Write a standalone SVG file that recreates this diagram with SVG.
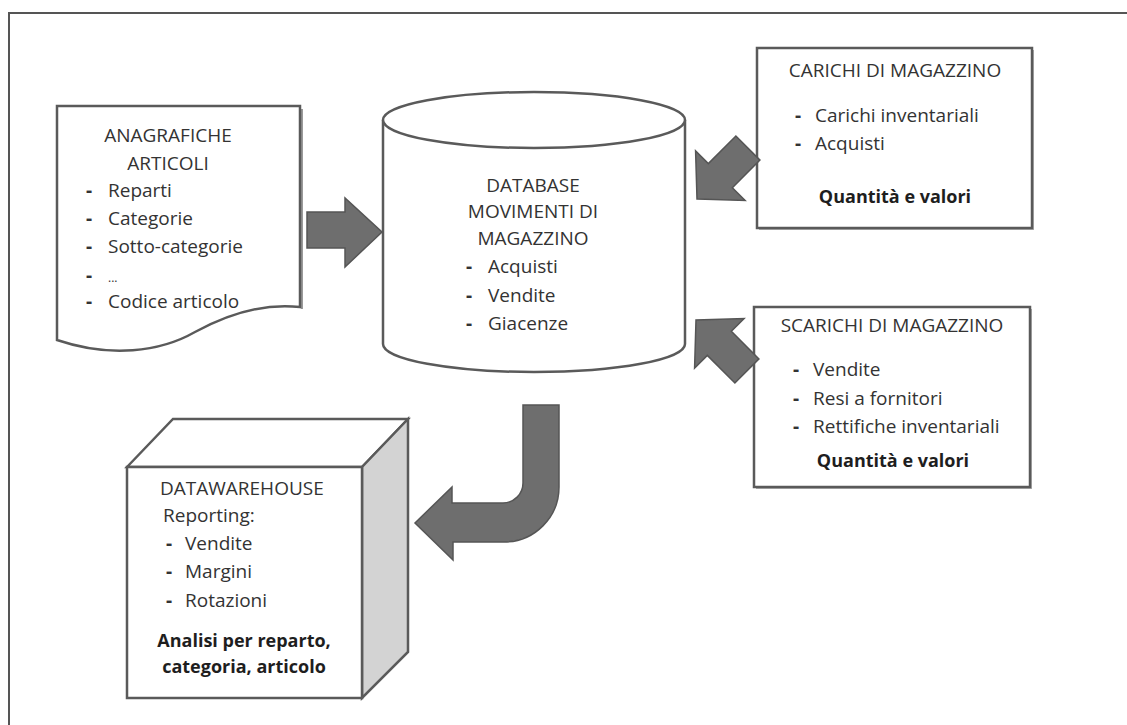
<svg xmlns="http://www.w3.org/2000/svg" width="1127" height="725" viewBox="0 0 1127 725">
<style>
.t{font-family:"Open Sans","Noto Sans",sans-serif;font-size:19px;fill:#333}
.d{font-weight:bold}
.b{font-family:"Open Sans","Noto Sans",sans-serif;font-size:18px;font-weight:bold;fill:#1e1e1e}
.c{text-anchor:middle}
.shape{fill:#fff;stroke:#5a5a5a;stroke-width:2.5}
.shadow{fill:none;stroke:#9a9a9a;stroke-width:2}
.arrow{fill:#6e6e6e;stroke:#555;stroke-width:1.5}
</style>
<defs>
<polygon id="diagArrow" points="0,0 -33,-35 -33,-17 -72,-17 -72,17 -33,17 -33,35"/>
</defs>
<rect width="1127" height="725" fill="#fff"/>
<path d="M9,725 L9,13 L1127,13" fill="none" stroke="#555" stroke-width="2"/>

<g id="anagrafiche">
<path class="shadow" d="M302,109 L302,309"/>
<path class="shape" d="M57,106 L300,106 L300,307 C265,303 230,313 195,332 C160,352 110,358 57,340 Z"/>
<text class="t c" x="168" y="142">ANAGRAFICHE</text>
<text class="t c" x="168" y="170">ARTICOLI</text>
<g class="t">
<text class="d" x="86" y="197">-</text><text x="108" y="197">Reparti</text>
<text class="d" x="86" y="225">-</text><text x="108" y="225">Categorie</text>
<text class="d" x="86" y="253">-</text><text x="108" y="253">Sotto-categorie</text>
<text class="d" x="86" y="282">-</text><text x="108" y="282" style="font-size:12px">...</text>
<text class="d" x="86" y="308">-</text><text x="108" y="308">Codice articolo</text>
</g>
</g>

<g id="database">
<path class="shape" d="M383,120 L383,344 A151,28 0 0 0 685,344 L685,120"/>
<ellipse class="shape" cx="534" cy="120" rx="151" ry="28"/>
<text class="t c" x="533" y="192">DATABASE</text>
<text class="t c" x="533" y="218">MOVIMENTI DI</text>
<text class="t c" x="533" y="245">MAGAZZINO</text>
<g class="t">
<text class="d" x="466" y="273">-</text><text x="488" y="273">Acquisti</text>
<text class="d" x="466" y="302">-</text><text x="488" y="302">Vendite</text>
<text class="d" x="466" y="330">-</text><text x="488" y="330">Giacenze</text>
</g>
</g>

<g id="carichi">
<rect x="759" y="50" width="275" height="180" fill="#b0b0b0"/>
<rect class="shape" x="757" y="48" width="275" height="180"/>
<text class="t c" x="895" y="77">CARICHI DI MAGAZZINO</text>
<g class="t">
<text class="d" x="795" y="122">-</text><text x="815" y="122">Carichi inventariali</text>
<text class="d" x="795" y="150">-</text><text x="815" y="150">Acquisti</text>
</g>
<text class="b c" x="895" y="203">Quantità e valori</text>
</g>

<g id="scarichi">
<rect x="756" y="309" width="276" height="180" fill="#b0b0b0"/>
<rect class="shape" x="754" y="307" width="276" height="180"/>
<text class="t c" x="892" y="332">SCARICHI DI MAGAZZINO</text>
<g class="t">
<text class="d" x="793" y="376">-</text><text x="813" y="376">Vendite</text>
<text class="d" x="793" y="405">-</text><text x="813" y="405">Resi a fornitori</text>
<text class="d" x="793" y="433">-</text><text x="813" y="433">Rettifiche inventariali</text>
</g>
<text class="b c" x="893" y="467">Quantità e valori</text>
</g>

<g id="datawarehouse">
<polygon class="shape" points="127,467 173,419 408,419 362,467"/>
<polygon class="shape" points="362,467 408,419 408,652 362,698" style="fill:#d3d3d3"/>
<rect class="shape" x="127" y="467" width="235" height="231"/>
<text class="t" x="160" y="495">DATAWAREHOUSE</text>
<text class="t" x="163" y="522">Reporting:</text>
<g class="t">
<text class="d" x="166" y="550">-</text><text x="185" y="550">Vendite</text>
<text class="d" x="166" y="578">-</text><text x="185" y="578">Margini</text>
<text class="d" x="166" y="607">-</text><text x="185" y="607">Rotazioni</text>
</g>
<text class="b c" x="244" y="647">Analisi per reparto,</text>
<text class="b c" x="244" y="673">categoria, articolo</text>
</g>

<g id="connectors">
<polygon class="arrow" points="307,212 345,212 345,198 382,232 345,267 345,248 307,248"/>
<use href="#diagArrow" class="arrow" transform="translate(697,199) rotate(135)"/>
<use href="#diagArrow" class="arrow" transform="translate(696,320) rotate(-135)"/>
<path class="arrow" d="M523,405 L559,405 L559,487 A55,55 0 0 1 504,542 L453,542 L453,560 L415,523 L452,487 L452,503 L503,503 A20,20 0 0 0 523,483 Z"/>
</g>
</svg>
